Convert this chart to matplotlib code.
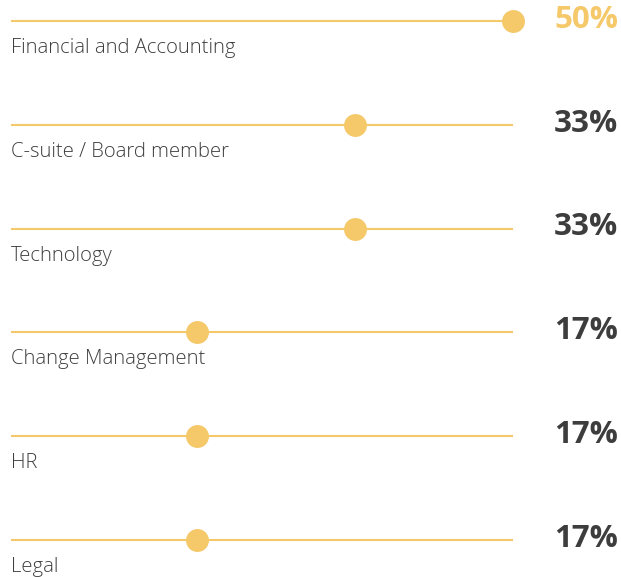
import numpy as np
import matplotlib.pyplot as plt

# ----- Data -----
categories = ["Financial and Accounting", "C-suite / Board member", "Technology",
              "Change Management", "HR", "Legal"]
shares = np.array([50.0, 33.3, 33.3, 16.7, 16.7, 16.7])
share_labels = ["50%", "33%", "33%", "17%", "17%", "17%"]

yellow = "#F5C96A"
dark = "#3d3d3d"
label_grey = "#3f3f3f"

plt.rcParams['font.family'] = ['Open Sans', 'DejaVu Sans']

fig = plt.figure(figsize=(6.21, 5.77), dpi=100)
ax = fig.add_axes([0, 0, 1, 1])
ax.set_xlim(-4.11, 61.39)
ax.set_ylim(5.355, -0.2)
ax.axis("off")

scale_max = shares.max()
line_start = -2.95

for i, (cat, v, lab) in enumerate(zip(categories, shares, share_labels)):
    ax.plot([line_start, scale_max], [i, i], color=yellow, linewidth=1.5,
            solid_capstyle="butt", zorder=1)
    ax.plot(v, i, "o", color=yellow, markersize=16.5, markeredgewidth=0, zorder=2)
    ax.text(line_start, i + 0.26, cat, ha="left", va="center",
            fontsize=14.6, fontweight="light", color=label_grey)
    ax.text(61.08, i - 0.01, lab, ha="right", va="center", fontsize=22.5,
            fontweight="bold", color=yellow if i == 0 else dark)

fig.savefig("out.png", dpi=100)
